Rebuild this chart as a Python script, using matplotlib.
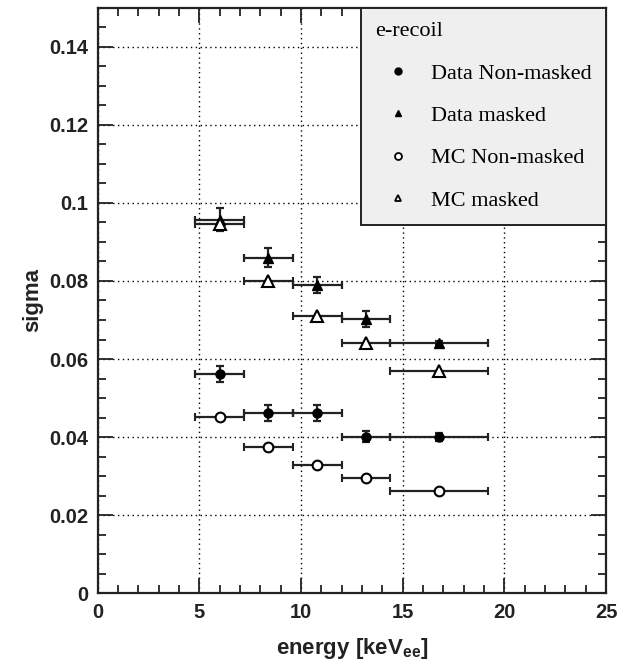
import numpy as np
import matplotlib
matplotlib.use("Agg")
import matplotlib.pyplot as plt
from matplotlib.lines import Line2D
from matplotlib.ticker import MultipleLocator

### data ###
bin_lo = np.array([4.8, 7.2, 9.6, 12.0, 14.4])
bin_hi = np.array([7.2, 9.6, 12.0, 14.4, 19.2])
energy = np.array([6.0, 8.4, 10.8, 13.2, 16.8])

data_nm = np.array([0.0561, 0.0462, 0.0462, 0.0401, 0.0400])
data_nm_err = np.array([0.0020, 0.0020, 0.0020, 0.0015, 0.0010])

data_m = np.array([0.0957, 0.0860, 0.0790, 0.0702, 0.0642])
data_m_err = np.array([0.0030, 0.0025, 0.0020, 0.0020, 0.0005])

mc_nm = np.array([0.0452, 0.0374, 0.0327, 0.0294, 0.0262])
mc_m = np.array([0.0945, 0.0801, 0.0711, 0.0640, 0.0569])

labels = ["Data Non-masked", "Data masked", "MC Non-masked", "MC masked"]

plt.rcParams["mathtext.fontset"] = "custom"
plt.rcParams["mathtext.rm"] = "Liberation Sans:bold"
plt.rcParams["mathtext.bf"] = "Liberation Sans:bold"

xerr = np.array([energy - bin_lo, bin_hi - energy])

fig = plt.figure(figsize=(6.18, 6.66), dpi=100)
ax = fig.add_axes([0.158, 0.1096, 0.8226, 0.8784])

eb = dict(ls="none", color="black", ecolor="#222222", elinewidth=1.6, capsize=3, capthick=1.6, zorder=3)

ax.errorbar(energy, data_nm, xerr=xerr, yerr=data_nm_err, fmt="o", ms=6.5, mfc="black", **eb)
ax.errorbar(energy, data_m, xerr=xerr, yerr=data_m_err, fmt="^", ms=7, mfc="black", **eb)
ax.errorbar(energy, mc_nm, xerr=xerr, fmt="o", ms=7, mfc="white", mew=1.5, **eb)
ax.errorbar(energy, mc_m, xerr=xerr, fmt="^", ms=8, mfc="white", mew=1.5, **eb)

ax.set_xlim(0, 25)
ax.set_ylim(0, 0.15)
ax.xaxis.set_major_locator(MultipleLocator(5))
ax.xaxis.set_minor_locator(MultipleLocator(1))
ax.yaxis.set_minor_locator(MultipleLocator(0.005))
ax.set_yticks(np.arange(0, 0.141, 0.02))
ax.set_yticklabels(["0", "0.02", "0.04", "0.06", "0.08", "0.1", "0.12", "0.14"])

ax.tick_params(which="both", direction="in", top=True, right=True, width=1.3, color="#222222",
               labelsize=14.5, pad=7)
ax.tick_params(which="major", length=11)
ax.tick_params(which="minor", length=6)
for lab in ax.get_xticklabels() + ax.get_yticklabels():
    lab.set_family("Liberation Sans")
    lab.set_fontweight("bold")
    lab.set_color("#222222")

for s in ax.spines.values():
    s.set_linewidth(1.6)
    s.set_color("#222222")

ax.grid(True, which="major", ls=(0, (1, 2.5)), color="black", lw=1.0)

ax.set_xlabel(r"energy [keV$_{\mathbf{ee}}$]", fontsize=16, fontweight="bold",
              family="Liberation Sans", color="#222222", labelpad=10)
ax.set_ylabel("sigma", fontsize=16, fontweight="bold", family="Liberation Sans",
              color="#222222", labelpad=4)

handles = [
    Line2D([], [], ls="none", marker="o", ms=5, color="black"),
    Line2D([], [], ls="none", marker="^", ms=5, color="black"),
    Line2D([], [], ls="none", marker="o", ms=5, mfc="white", mec="black", mew=1.3),
    Line2D([], [], ls="none", marker="^", ms=5, mfc="white", mec="black", mew=1.3),
]
leg = ax.legend(handles, labels, title="e-recoil", loc="upper right", bbox_to_anchor=(1, 1),
                borderaxespad=0, fancybox=False, framealpha=1, facecolor="#efefef",
                edgecolor="#222222", prop={"family": "Liberation Serif", "size": 16},
                title_fontproperties={"family": "Liberation Serif", "size": 16},
                alignment="left", handlelength=2.0, handletextpad=0.5, labelspacing=0.98,
                borderpad=0.65)
leg.get_frame().set_linewidth(1.4)
leg.set_zorder(5)

fig.savefig("out.png", dpi=100)
